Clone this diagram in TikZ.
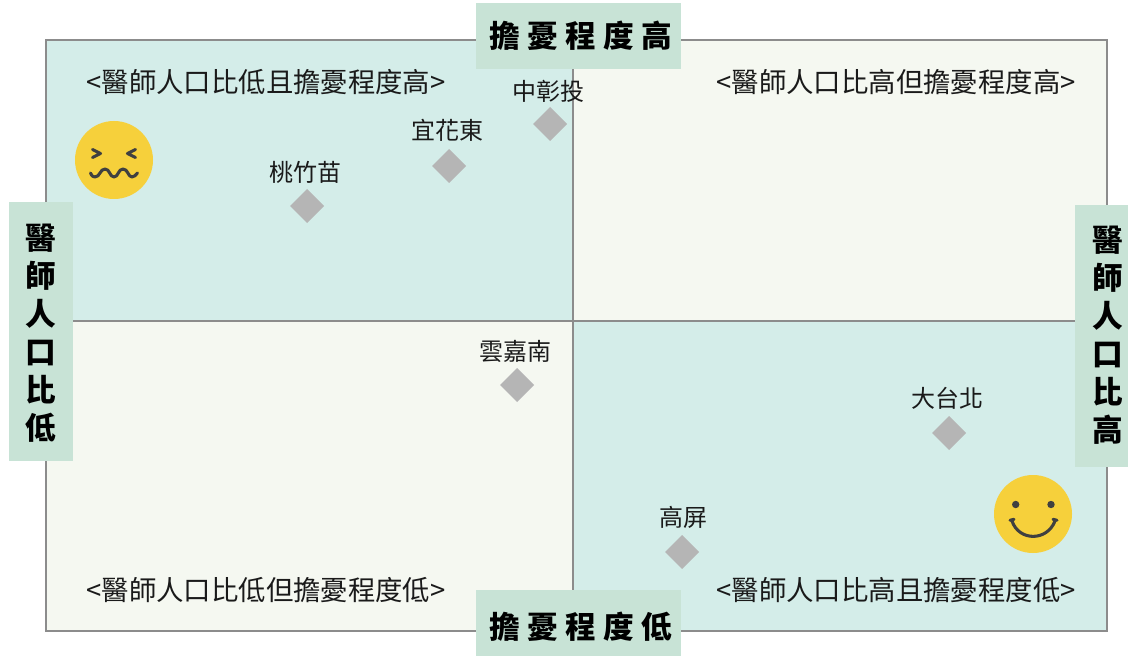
\documentclass[tikz,border=0pt]{standalone}
\usepackage{fontspec}
\setmainfont{Noto Sans CJK TC}
\definecolor{quadA}{HTML}{D4EDE9}
\definecolor{quadB}{HTML}{F5F8F1}
\definecolor{headfill}{HTML}{C8E3D6}
\definecolor{framecol}{HTML}{8C8C8C}
\definecolor{facecol}{HTML}{F6D03B}
\definecolor{featcol}{HTML}{404040}
\definecolor{markcol}{HTML}{B5B5B5}
\definecolor{txtcol}{HTML}{1A1A1A}
\newcommand{\gp}{\hspace{5.4pt}}
\tikzset{
  quadlabel/.style={font=\fontsize{20.55pt}{24pt}\selectfont,text=txtcol,inner sep=0pt,anchor=center},
  placelabel/.style={font=\fontsize{18pt}{22pt}\selectfont,text=txtcol,inner sep=0pt,anchor=center},
  headtext/.style={font=\fontsize{23pt}{28.5pt}\selectfont\bfseries,text=black,inner sep=0pt,align=center,anchor=center},
  headbox/.style={fill=headfill,draw=none},
  marker/.style={fill=markcol,draw=none},
  feature/.style={draw=featcol,line width=2.3pt,line cap=round,line join=round},
}
\begin{document}
\begin{tikzpicture}[x=0.75pt,y=-0.75pt]
\useasboundingbox (0,0) rectangle (1128,656);
% quadrants
\fill[quadA] (46,40) rectangle (573,321);
\fill[quadB] (573,40) rectangle (1107,321);
\fill[quadB] (46,321) rectangle (573,631);
\fill[quadA] (573,321) rectangle (1107,631);
\draw[framecol,line width=1.1pt] (46,40) rectangle (1107,631);
\draw[framecol,line width=1.1pt] (573,40) -- (573,631);
\draw[framecol,line width=1.1pt] (46,321) -- (1107,321);
% header boxes
\fill[headbox] (476,3) rectangle (681,69);
\fill[headbox] (476,590) rectangle (681,656);
\fill[headbox] (9,202) rectangle (73,461);
\fill[headbox] (1075,205) rectangle (1128,467);
\node[headtext] (top) at (580.7,36) {擔\gp 憂\gp 程\gp 度\gp 高};
\node[headtext] (bottom) at (580.7,627) {擔\gp 憂\gp 程\gp 度\gp 低};
\node[headtext] (left) at (40.4,333.5) {醫\\師\\人\\口\\比\\低};
\node[headtext] (right) at (1107.6,335.5) {醫\\師\\人\\口\\比\\高};
% quadrant captions
\node[quadlabel] (qa) at (266,82) {<醫師人口比低且擔憂程度高>};
\node[quadlabel] (qb) at (896,82) {<醫師人口比高但擔憂程度高>};
\node[quadlabel] (qc) at (266,590) {<醫師人口比低但擔憂程度低>};
\node[quadlabel] (qd) at (896,590) {<醫師人口比高且擔憂程度低>};
% markers
\foreach \n/\x/\y in {m1/550/124,m2/449/166,m3/307/206,m4/517/385,m5/949/433,m6/682/552}{
  \fill[marker] (\x-17,\y) -- (\x,\y-17) -- (\x+17,\y) -- (\x,\y+17) -- cycle;
  \coordinate (\n) at (\x,\y);
}
\node[placelabel] (l1) at (548,91) {中彰投};
\node[placelabel] (l2) at (447,130) {宜花東};
\node[placelabel] (l3) at (305,172) {桃竹苗};
\node[placelabel] (l4) at (515,351) {雲嘉南};
\node[placelabel] (l5) at (947,398) {大台北};
\node[placelabel] (l6) at (683,517) {高屏};
% worried face
\fill[facecol] (114,160) circle[radius=39*0.75pt];
\draw[feature] (92.5,149.5) -- (100.5,153.5) -- (92.5,157.5);
\draw[feature] (135.5,149.5) -- (127.5,153.5) -- (135.5,157.5);
\draw[feature] (90.5,173) .. controls (92,176.5) and (93.5,177) .. (95,177)
  .. controls (100,177) and (100,169) .. (105,169)
  .. controls (110,169) and (109.5,177) .. (114,177)
  .. controls (118.5,177) and (118,169) .. (123,169)
  .. controls (128,169) and (128,177) .. (132,177)
  .. controls (134,177) and (136,175) .. (137.5,173);
% happy face
\fill[facecol] (1033,514) circle[radius=39*0.75pt];
\fill[featcol] (1015.7,504.5) circle[radius=3.7*0.75pt];
\fill[featcol] (1051,504.5) circle[radius=3.7*0.75pt];
\draw[feature] (1012,521) .. controls (1019,541.5) and (1047,541.5) .. (1055,521);
\draw[feature] (1010,520.3) -- (1014,519.3);
\draw[feature] (1053,519.3) -- (1057,520.3);
\end{tikzpicture}
\end{document}
